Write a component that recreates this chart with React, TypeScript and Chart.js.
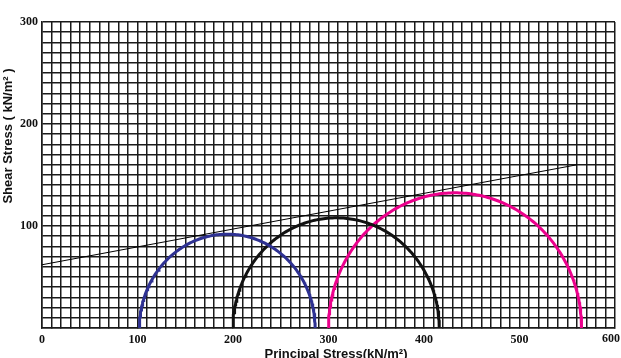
import React, { useEffect, useRef } from "react";
import { Chart, registerables } from "chart.js";

Chart.register(...registerables);

// Mohr circles: minor and major principal stresses (kN/m²)
const sigma3 = [102, 200, 300];
const sigma1 = [286, 416, 565];
const circleColors = ["#2e3192", "#111111", "#ec008c"];

// Failure envelope end points (normal stress, shear stress)
const envelopeX = [0, 560];
const envelopeY = [62, 160];

const xTickLabels = [0, 100, 200, 300, 400, 500];
const xLastLabel = 600;
const yTickLabels = [100, 200, 300];

const tickFontCss = "bold 12px 'Liberation Serif', 'Times New Roman', serif";

function semicircle(s3: number, s1: number) {
  const c = (s1 + s3) / 2;
  const r = (s1 - s3) / 2;
  const pts: { x: number; y: number }[] = [];
  for (let i = 0; i <= 180; i++) {
    const a = (Math.PI * i) / 180;
    pts.push({ x: c - r * Math.cos(a), y: r * Math.sin(a) });
  }
  return pts;
}

const titlePlugin = {
  id: "axisTitles",
  afterDraw(chart: any) {
    const ctx = chart.ctx;
    const xs = chart.scales.x;
    ctx.save();
    ctx.fillStyle = "#111";
    // last x tick label, kept inside the canvas as in the reference
    ctx.font = tickFontCss;
    ctx.textAlign = "right";
    ctx.textBaseline = "top";
    ctx.fillText(String(xLastLabel), xs.getPixelForValue(xLastLabel) + 5, chart.chartArea.bottom + 5);
    ctx.font = "bold 13px 'Liberation Sans', Arial, sans-serif";
    ctx.textAlign = "center";
    ctx.fillText("Principal Stress(kN/m²)", 336, 348);
    ctx.translate(8, 136);
    ctx.rotate(-Math.PI / 2);
    ctx.textBaseline = "middle";
    ctx.fillText("Shear Stress ( kN/m² )", 0, 0);
    ctx.restore();
  },
};

export default function App() {
  const ref = useRef<HTMLCanvasElement>(null);
  useEffect(() => {
    document.body.style.margin = "0";
    const datasets: any[] = sigma3.map((s3, i) => ({
      data: semicircle(s3, sigma1[i]),
      showLine: true,
      borderColor: circleColors[i],
      borderWidth: 3,
      pointRadius: 0,
      fill: false,
    }));
    datasets.push({
      data: envelopeX.map((x, i) => ({ x, y: envelopeY[i] })),
      showLine: true,
      borderColor: "#000",
      borderWidth: 1,
      pointRadius: 0,
      fill: false,
    });
    const tickFont = { family: "'Liberation Serif', 'Times New Roman', serif", weight: "bold" as const, size: 12 };
    const chart = new Chart(ref.current!, {
      type: "scatter",
      data: { datasets },
      options: {
        animation: false,
        responsive: false,
        devicePixelRatio: 1,
        layout: { padding: { top: 22, right: 6, left: 0, bottom: 0 } },
        plugins: { legend: { display: false }, tooltip: { enabled: false } },
        scales: {
          x: {
            type: "linear",
            min: 0,
            max: 600,
            afterFit: (s: any) => { s.height = 30; s.paddingRight = 0; s.paddingLeft = 0; },
            grid: { color: "#1a1a1a", lineWidth: 1.5, tickLength: 0 },
            border: { color: "#1a1a1a", width: 1.5 },
            ticks: {
              stepSize: 10,
              autoSkip: false,
              maxRotation: 0,
              padding: 5,
              color: "#111",
              font: tickFont,
              callback: (v: any) => (xTickLabels.includes(Number(v)) ? String(v) : ""),
            },
          },
          y: {
            type: "linear",
            min: 0,
            max: 300,
            afterFit: (s: any) => { s.width = 42; s.paddingTop = 0; s.paddingBottom = 0; },
            grid: { color: "#1a1a1a", lineWidth: 1.5, tickLength: 0 },
            border: { color: "#1a1a1a", width: 1.5 },
            ticks: {
              stepSize: 10,
              autoSkip: false,
              padding: 4,
              color: "#111",
              font: tickFont,
              callback: (v: any) => (yTickLabels.includes(Number(v)) ? String(v) : ""),
            },
          },
        },
      },
      plugins: [titlePlugin],
    });
    return () => chart.destroy();
  }, []);
  return (
    <div style={{ position: "absolute", left: 0, top: 0, width: 621, height: 358, background: "#fff" }}>
      <canvas ref={ref} width={621} height={358} />
    </div>
  );
}
